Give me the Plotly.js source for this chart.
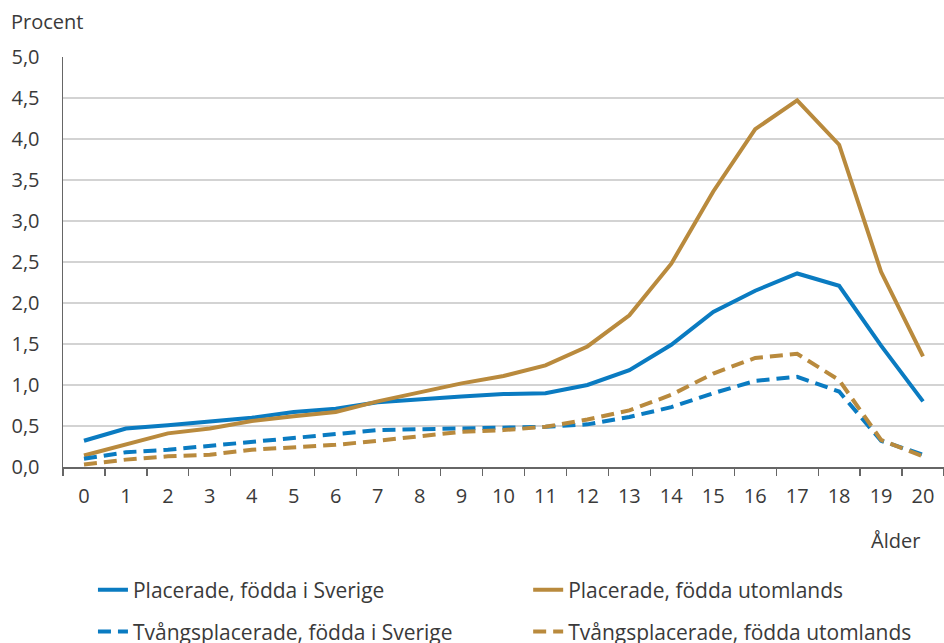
<!DOCTYPE html>
<html>
<head>
<meta charset="utf-8">
<script src="https://cdn.plot.ly/plotly-3.0.1.min.js"></script>
<style>html,body{margin:0;padding:0;background:#fff;}#chart{width:944px;height:643px;}</style>
</head>
<body>
<div id="chart"></div>
<script>
const ages = ["0","1","2","3","4","5","6","7","8","9","10","11","12","13","14","15","16","17","18","19","20"];
const placeradeSverige = [0.32,0.47,0.51,0.56,0.60,0.67,0.71,0.79,0.83,0.86,0.89,0.90,1.00,1.18,1.49,1.89,2.15,2.36,2.21,1.48,0.80];
const placeradeUtomlands = [0.14,0.27,0.41,0.47,0.56,0.62,0.67,0.80,0.91,1.02,1.11,1.24,1.47,1.85,2.48,3.36,4.12,4.47,3.93,2.38,1.35];
const tvangSverige = [0.10,0.18,0.21,0.26,0.30,0.35,0.40,0.45,0.46,0.47,0.49,0.49,0.52,0.61,0.73,0.90,1.05,1.10,0.92,0.32,0.15];
const tvangUtomlands = [0.03,0.09,0.13,0.15,0.21,0.24,0.27,0.32,0.37,0.43,0.45,0.49,0.58,0.69,0.88,1.14,1.33,1.38,1.06,0.33,0.13];
const yTickVals = [0,0.5,1,1.5,2,2.5,3,3.5,4,4.5,5];
const yTickText = ["0,0","0,5","1,0","1,5","2,0","2,5","3,0","3,5","4,0","4,5","5,0"];

const BLUE = "#0a7bc1";
const GOLD = "#b98a3d";
const DASH = "13px,7px";

const traces = [
  {x: ages, y: placeradeSverige, name: "Placerade, födda i Sverige", type: "scatter", mode: "lines",
   line: {color: BLUE, width: 4}, legend: "legend"},
  {x: ages, y: placeradeUtomlands, name: "Placerade, födda utomlands", type: "scatter", mode: "lines",
   line: {color: GOLD, width: 4}, legend: "legend2"},
  {x: ages, y: tvangSverige, name: "Tvångsplacerade, födda i Sverige", type: "scatter", mode: "lines",
   line: {color: BLUE, width: 4, dash: DASH}, legend: "legend3"},
  {x: ages, y: tvangUtomlands, name: "Tvångsplacerade, födda utomlands", type: "scatter", mode: "lines",
   line: {color: GOLD, width: 4, dash: DASH}, legend: "legend4"}
];

const FONT = {family: "Open Sans, sans-serif", size: 20, color: "#3a3a3a"};
const LFONT = {family: "Open Sans, sans-serif", size: 21, color: "#3a3a3a"};
function leg(x, y) {
  return {orientation: "h", xref: "paper", yref: "paper", x: x, y: y, xanchor: "left", yanchor: "middle",
    font: LFONT, bgcolor: "rgba(0,0,0,0)", borderwidth: 0, itemclick: false, itemdoubleclick: false};
}

const layout = {
  width: 944, height: 643,
  margin: {l: 63, r: 0, t: 57, b: 176, autoexpand: false},
  paper_bgcolor: "#ffffff", plot_bgcolor: "#ffffff",
  font: FONT,
  showlegend: true,
  legend: leg(0.034, -0.30),
  legend2: leg(0.528, -0.30),
  legend3: leg(0.034, -0.402),
  legend4: leg(0.528, -0.402),
  xaxis: {
    type: "category", range: [-0.5, 20.5], tickson: "boundaries", ticks: "outside", ticklen: 7, tickwidth: 1.2,
    tickcolor: "#666", showline: true, linecolor: "#666", linewidth: 1.5, ticklabelstandoff: 10,
    showgrid: false, zeroline: false, fixedrange: true, tickfont: FONT
  },
  yaxis: {
    range: [0, 5], tickvals: yTickVals, ticktext: yTickText, ticks: "", ticklabelstandoff: 18,
    showline: true, linecolor: "#666", linewidth: 1.5,
    showgrid: true, gridcolor: "#d3d3d3", gridwidth: 1.2, zeroline: false, fixedrange: true,
    tickfont: FONT
  },
  annotations: [
    {text: "Procent", xref: "paper", yref: "paper", x: -0.061, y: 1.0, xanchor: "left", yanchor: "bottom",
     yshift: 20, showarrow: false, font: FONT},
    {text: "Ålder", xref: "paper", yref: "paper", x: 0.975, y: 0, xanchor: "right", yanchor: "middle",
     yshift: -73, showarrow: false, font: FONT}
  ]
};

Plotly.newPlot("chart", traces, layout, {displayModeBar: false, staticPlot: true});
</script>
</body>
</html>
